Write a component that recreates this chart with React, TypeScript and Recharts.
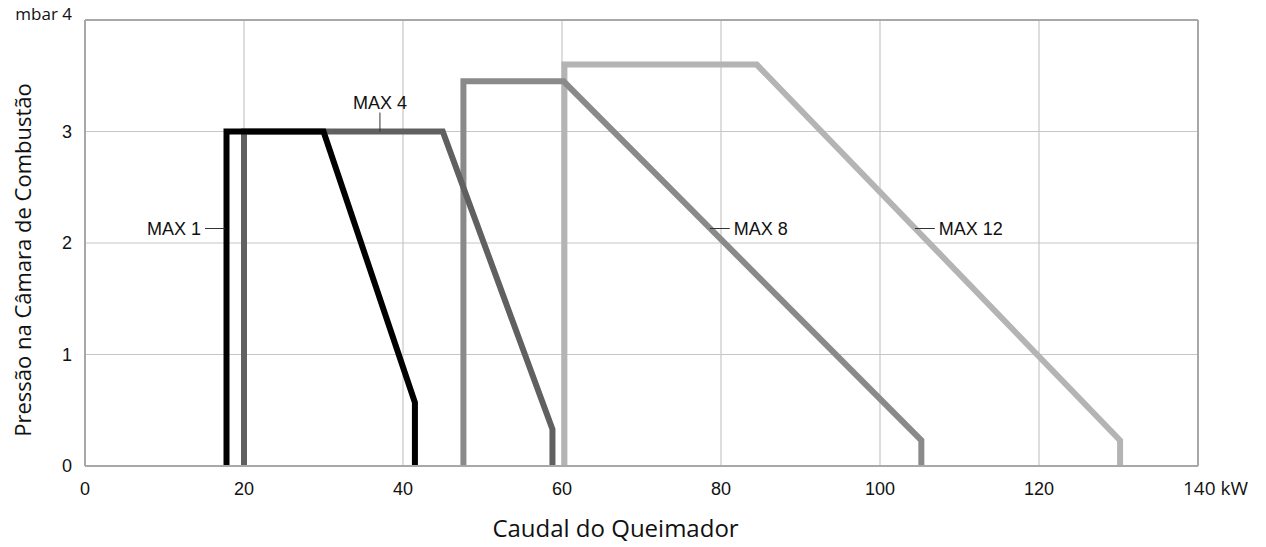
import React from 'react';
import {
    LineChart,
    Line,
    XAxis,
    YAxis,
    CartesianGrid,
    ReferenceLine,
    ReferenceDot,
} from 'recharts';

// kW, mbar pairs
const max1 = [
    { x: 17.8, y: 0 },
    { x: 17.8, y: 3 },
    { x: 30, y: 3 },
    { x: 41.5, y: 0.57 },
    { x: 41.5, y: 0 },
];
const max4 = [
    { x: 20, y: 0 },
    { x: 20, y: 3 },
    { x: 45, y: 3 },
    { x: 58.8, y: 0.33 },
    { x: 58.8, y: 0 },
];
const max8 = [
    { x: 47.6, y: 0 },
    { x: 47.6, y: 3.45 },
    { x: 60.2, y: 3.45 },
    { x: 105.2, y: 0.23 },
    { x: 105.2, y: 0 },
];
const max12 = [
    { x: 60.3, y: 0 },
    { x: 60.3, y: 3.6 },
    { x: 84.5, y: 3.6 },
    { x: 130.2, y: 0.23 },
    { x: 130.2, y: 0 },
];

const xTicks = [0, 20, 40, 60, 80, 100, 120, 140];
const yTicks = [0, 1, 2, 3, 4];

const series = [
    { name: 'MAX 12', data: max12, color: '#b4b4b4' },
    { name: 'MAX 8', data: max8, color: '#8a8a8a' },
    { name: 'MAX 4', data: max4, color: '#606060' },
    { name: 'MAX 1', data: max1, color: '#000000' },
];

// leader lines: from -> to, text anchored at "to"
const leaders = [
    { name: 'MAX 1', from: { x: 17.6, y: 2.13 }, to: { x: 15.1, y: 2.13 }, pos: 'left' },
    { name: 'MAX 4', from: { x: 37.1, y: 3 }, to: { x: 37.1, y: 3.17 }, pos: 'top' },
    { name: 'MAX 8', from: { x: 78.6, y: 2.13 }, to: { x: 81.1, y: 2.13 }, pos: 'right' },
    { name: 'MAX 12', from: { x: 104.4, y: 2.13 }, to: { x: 106.9, y: 2.13 }, pos: 'right' },
];

const tickFont = 'Liberation Sans, Arial, sans-serif';
const titleFont = 'Open Sans, sans-serif';

const XTick = ({ x, y, payload }: any) => {
    if (payload.value === 140) {
        return (
            <text x={x - 15} y={y + 21} textAnchor="start" fontFamily={titleFont} fontSize={19} fill="#111">
                140 kW
            </text>
        );
    }
    return (
        <text x={x} y={y + 21} textAnchor="middle" fontFamily={tickFont} fontSize={18} fill="#111">
            {payload.value}
        </text>
    );
};

const YTick = ({ y, payload }: any) => {
    if (payload.value === 4) {
        return (
            <text x={72} y={y} dy={0} textAnchor="end" fontFamily={titleFont} fontSize={17} fill="#111">
                mbar 4
            </text>
        );
    }
    return (
        <text x={72} y={y} dy={6} textAnchor="end" fontFamily={tickFont} fontSize={18} fill="#111">
            {payload.value}
        </text>
    );
};

const YTitle = () => (
    <text
        x={22}
        y={260}
        transform="rotate(-90 22 260)"
        textAnchor="middle"
        dominantBaseline="central"
        fontFamily={titleFont}
        fontSize={22}
        fill="#111"
    >
        Pressão na Câmara de Combustão
    </text>
);

export default function App() {
    return (
        <div style={{ position: 'absolute', left: 0, top: 0, background: '#fff' }}>
            <LineChart
                width={1266}
                height={547}
                margin={{ top: 20, right: 68, left: 0, bottom: 0 }}
            >
                <CartesianGrid stroke="#c6c6c6" strokeWidth={1.2} />
                <XAxis
                    type="number"
                    dataKey="x"
                    domain={[0, 140]}
                    ticks={xTicks}
                    height={81}
                    tickLine={false}
                    axisLine={{ stroke: '#a8a8a8', strokeWidth: 2 }}
                    tick={<XTick />}
                    label={{
                        value: 'Caudal do Queimador',
                        position: 'insideBottom',
                        offset: 10,
                        dx: -26,
                        fontFamily: titleFont,
                        fontSize: 24,
                        fill: '#111',
                    }}
                />
                <YAxis
                    type="number"
                    dataKey="y"
                    domain={[0, 4]}
                    ticks={yTicks}
                    width={85}
                    tickLine={false}
                    axisLine={{ stroke: '#a8a8a8', strokeWidth: 2 }}
                    tick={<YTick />}
                    label={<YTitle />}
                />
                <ReferenceLine y={4} stroke="#a8a8a8" strokeWidth={2} />
                <ReferenceLine x={140} stroke="#a8a8a8" strokeWidth={2} />
                {series.map((s) => (
                    <Line
                        key={s.name}
                        data={s.data}
                        dataKey="y"
                        type="linear"
                        stroke={s.color}
                        strokeWidth={6}
                        strokeLinejoin="miter"
                        dot={false}
                        activeDot={false}
                        isAnimationActive={false}
                    />
                ))}
                {leaders.map((l) => (
                    <ReferenceLine
                        key={l.name + '-line'}
                        segment={[l.from, l.to]}
                        stroke="#333"
                        strokeWidth={1}
                    />
                ))}
                {leaders.map((l) => (
                    <ReferenceDot
                        key={l.name + '-dot'}
                        x={l.to.x}
                        y={l.to.y}
                        r={0}
                        fill="none"
                        stroke="none"
                        label={{
                            value: l.name,
                            position: l.pos as any,
                            offset: 4,
                            fontFamily: tickFont,
                            fontSize: 18,
                            fill: '#111',
                        }}
                    />
                ))}
            </LineChart>
        </div>
    );
}
